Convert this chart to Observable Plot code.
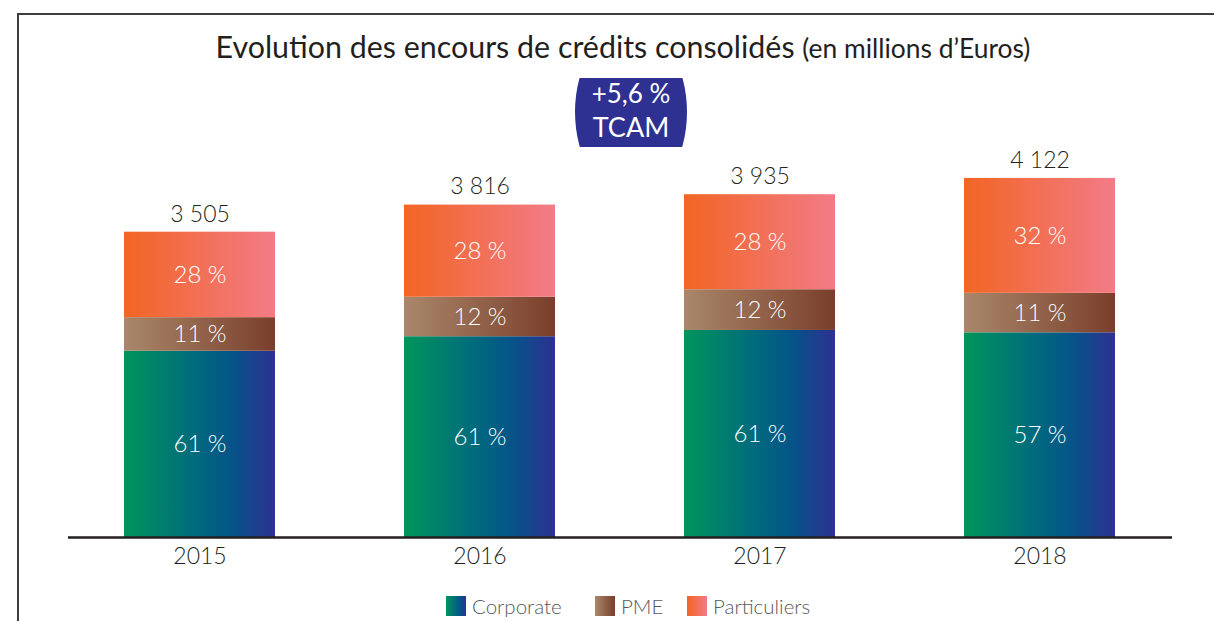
<!DOCTYPE html>
<html><head><meta charset="utf-8">
<script src="https://cdn.jsdelivr.net/npm/d3@7"></script>
<script src="https://cdn.jsdelivr.net/npm/@observablehq/plot@0.6"></script>
<style>
body{margin:0;background:#fff;font-family:Lato,"Noto Sans",sans-serif;}
#wrap{position:relative;width:1214px;height:621px;overflow:hidden;background:#fff;}
#frame{position:absolute;left:17px;top:13px;width:1300px;height:700px;border-top:2px solid #3d3d3d;border-left:2px solid #3d3d3d;}
#title{position:absolute;top:26px;left:16px;width:1214px;text-align:center;color:#231f20;white-space:nowrap;font-size:30.4px;line-height:40px;}
#title small{font-size:26.4px;}
#chart{position:absolute;left:0;top:60px;}
#legend{position:absolute;top:594px;left:0;width:1214px;height:24px;font-size:20.5px;color:#58595b;line-height:24px;font-weight:300;}
#legend .it{position:absolute;top:0;display:flex;align-items:center;white-space:nowrap;}
#legend .sw{width:20px;height:20px;margin-right:6px;}
</style></head>
<body>
<div id="wrap">
  <div id="frame"></div>
  <div id="title">Evolution des encours de crédits consolidés <small>(en millions d’Euros)</small></div>
  <div id="chart"></div>
  <div id="legend"></div>
</div>
<script>
// ---- data ----
const years = ["2015", "2016", "2017", "2018"];
const totals = [3505, 3816, 3935, 4122];
const series = ["Corporate", "PME", "Particuliers"];
const corporatePct = [61, 61, 61, 57];
const pmePct = [11, 12, 12, 11];
const particuliersPct = [28, 28, 28, 32];
const tcamLines = ["+5,6 %", "TCAM"];

// ---- styles ----
const gradients = {
  Corporate: [[0, "#00955b"], [0.45, "#006c7c"], [0.72, "#055389"], [1, "#2e3191"]],
  PME: [[0, "#a9876b"], [1, "#7a3f2b"]],
  Particuliers: [[0, "#f26524"], [1, "#f27b87"]]
};
const gradId = {Corporate: "gCorp", PME: "gPme", Particuliers: "gPart"};
const legendLeft = {Corporate: 446, PME: 595, Particuliers: 687};

const pctBySeries = {Corporate: corporatePct, PME: pmePct, Particuliers: particuliersPct};
const rows = [];
years.forEach((yr, i) => {
  const sum = series.reduce((s, k) => s + pctBySeries[k][i], 0);
  series.forEach(k => {
    rows.push({year: yr, series: k, pct: pctBySeries[k][i], value: totals[i] * pctBySeries[k][i] / sum});
  });
});
const totalRows = years.map((yr, i) => ({year: yr, total: totals[i]}));

const fmt = d3.formatLocale({decimal: ",", thousands: " ", grouping: [3], currency: ["", " €"]}).format(",d");

function defsMark() {
  const defs = d3.create("svg:defs");
  for (const k of series) {
    const g = defs.append("linearGradient").attr("id", gradId[k]).attr("x1", 0).attr("x2", 1).attr("y1", 0).attr("y2", 0);
    for (const [o, c] of gradients[k]) g.append("stop").attr("offset", o).attr("stop-color", c);
  }
  const cp = defs.append("clipPath").attr("id", "badgeClip");
  cp.append("rect").attr("x", 560).attr("y", 18).attr("width", 140).attr("height", 69);
  return defs.node();
}

function badgeMark() {
  const g = d3.create("svg:g");
  g.append("ellipse").attr("cx", 631).attr("cy", 52).attr("rx", 56).attr("ry", 86)
    .attr("fill", "#2e3192").attr("clip-path", "url(#badgeClip)");
  g.append("text").attr("x", 631).attr("y", 34).attr("dy", "0.35em").attr("text-anchor", "middle")
    .attr("fill", "#fff").attr("font-size", 26).attr("font-weight", 400).text(tcamLines[0]);
  g.append("text").attr("x", 631).attr("y", 68).attr("dy", "0.35em").attr("text-anchor", "middle")
    .attr("fill", "#fff").attr("font-size", 27).attr("font-weight", 400).text(tcamLines[1]);
  return g.node();
}

const plot = Plot.plot({
  width: 1214,
  height: 522,
  marginTop: 85,
  marginBottom: 45,
  marginLeft: 68,
  marginRight: 42,
  style: {fontFamily: "Lato, 'Noto Sans', sans-serif", background: "transparent", overflow: "visible"},
  x: {domain: years, paddingInner: 0.459, paddingOuter: 0.194, axis: null},
  y: {domain: [0, 4500], axis: null},
  color: {domain: series, range: series.map(k => `url(#${gradId[k]})`)},
  marks: [
    defsMark,
    Plot.barY(rows, Plot.stackY({x: "year", y: "value", fill: "series", z: "series", order: series})),
    Plot.text(rows, Plot.stackY({x: "year", y: "value", z: "series", order: series, text: d => `${d.pct} %`,
      fill: "#ffffff", fontSize: 24, fontWeight: 300, lineAnchor: "middle"})),
    Plot.text(totalRows, {x: "year", y: "total", text: d => fmt(d.total), dy: -18,
      fill: "#231f20", fontSize: 23, fontWeight: 300, lineAnchor: "middle"}),
    Plot.ruleY([0], {stroke: "#231f20", strokeWidth: 2.5}),
    Plot.text(years, {x: d => d, y: 0, text: d => d, dy: 19, fill: "#231f20", fontSize: 23, fontWeight: 300, lineAnchor: "middle"}),
    badgeMark
  ]
});
document.getElementById("chart").appendChild(plot);

// legend
const leg = document.getElementById("legend");
for (const k of series) {
  const it = document.createElement("div");
  it.className = "it";
  it.style.left = legendLeft[k] + "px";
  const sw = document.createElement("div");
  sw.className = "sw";
  sw.style.background = `linear-gradient(to right, ${gradients[k].map(([o, c]) => `${c} ${o * 100}%`).join(", ")})`;
  const tx = document.createElement("span");
  tx.textContent = k;
  it.appendChild(sw); it.appendChild(tx);
  leg.appendChild(it);
}
</script>
</body></html>
